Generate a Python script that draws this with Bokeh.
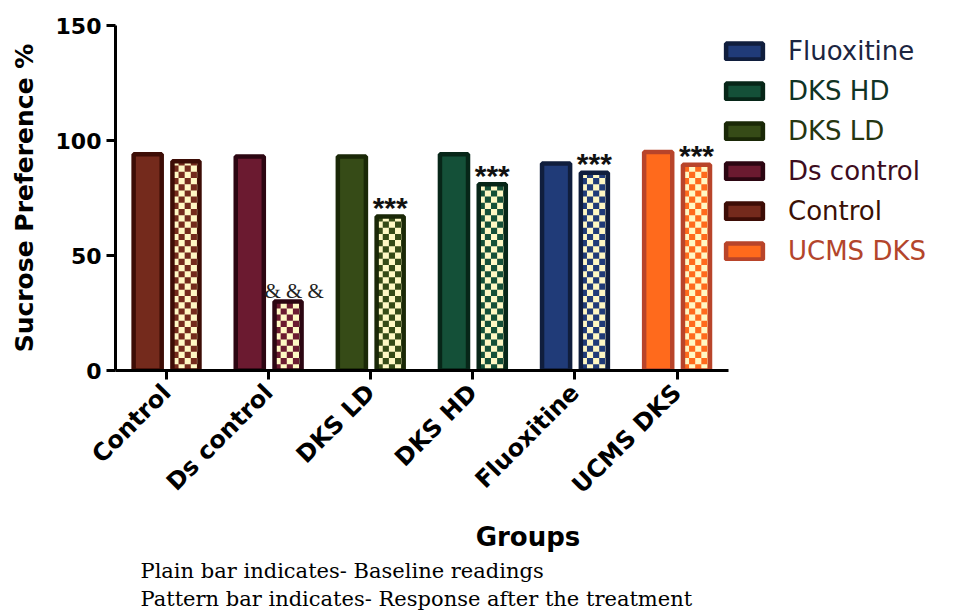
import math
from bokeh.plotting import figure
from bokeh.models import (ColumnDataSource, Legend, LegendItem, FixedTicker, Title, Range1d)
from bokeh.transform import dodge
from bokeh.core.properties import value
from bokeh.embed import file_html
from bokeh.resources import INLINE

# ---------------- data ----------------
groups = ["Control", "Ds control", "DKS LD", "DKS HD", "Fluoxitine", "UCMS DKS"]
baseline = [94, 93, 93, 94, 90, 95]
treated = [91, 30, 67, 81, 86, 89.5]
star_marks = ["", "", "***", "***", "***", "***"]
amp_marks = ["", "& & &", "", "", "", ""]
y_ticks = [0, 50, 100, 150]
legend_order = ["Fluoxitine", "DKS HD", "DKS LD", "Ds control", "Control", "UCMS DKS"]

# ---------------- styles ----------------
fill_colors = ["#742a1c", "#6b1a30", "#364b17", "#145038", "#203b78", "#ff6a1c"]
line_colors = ["#3d0d06", "#2c0612", "#1a2807", "#072618", "#101e3d", "#b8442a"]
label_colors = ["#3a1005", "#3d0c20", "#263610", "#0f3325", "#1c2541", "#b3452b"]
cream = "#fff8c4"
SANS = "DejaVu Sans"
BASE_OFF, TREAT_OFF = -0.185, 0.19
BASE_W, TREAT_W = 0.275, 0.265
CELL_X, CELL_Y = 0.06, 2.7

src = ColumnDataSource(dict(
    x=list(range(len(groups))), group=groups, baseline=baseline, treated=treated,
    fill=fill_colors, line=line_colors, stars=star_marks, amps=amp_marks,
))

# checkerboard cells of the "after treatment" bars, derived from the data
cl, cr, cb, ct, cc = [], [], [], [], []
for i, v in enumerate(treated):
    left = i + TREAT_OFF - TREAT_W / 2
    right = i + TREAT_OFF + TREAT_W / 2
    ncol = int(math.ceil(TREAT_W / CELL_X))
    nrow = int(math.ceil(v / CELL_Y))
    for c in range(ncol):
        for r in range(nrow):
            if (c + r) % 2 == 0:
                l0 = left + c * CELL_X
                b0 = r * CELL_Y
                cl.append(l0)
                cr.append(min(l0 + CELL_X, right))
                cb.append(b0)
                ct.append(min(b0 + CELL_Y, v))
                cc.append(fill_colors[i])
cells = ColumnDataSource(dict(left=cl, right=cr, bottom=cb, top=ct, color=cc))

p = figure(width=945, height=611, output_backend="svg", toolbar_location=None,
           x_range=Range1d(-0.5, 7.58), y_range=Range1d(0, 150),
           min_border_left=115, min_border_top=25, min_border_right=5,
           min_border_bottom=239)
p.outline_line_color = None
p.xgrid.visible = False
p.ygrid.visible = False

r_base = p.vbar(x=dodge("x", BASE_OFF, range=p.x_range), top="baseline", width=BASE_W,
                source=src, fill_color="fill", line_color="line", line_width=4.5)
p.vbar(x=dodge("x", TREAT_OFF, range=p.x_range), top="treated", width=TREAT_W,
       source=src, fill_color=cream, line_color=None)
p.quad(left="left", right="right", bottom="bottom", top="top", source=cells,
       fill_color="color", line_color=None)
p.vbar(x=dodge("x", TREAT_OFF, range=p.x_range), top="treated", width=TREAT_W,
       source=src, fill_color=None, line_color="line", line_width=4.5)

p.text(x=dodge("x", TREAT_OFF, range=p.x_range), y="treated", text="stars", source=src,
       text_align="center", text_baseline="alphabetic", y_offset=-9,
       text_font=value("Liberation Sans"), text_font_size="30px",
       text_font_style="bold", text_color="#111111")
p.text(x=dodge("x", TREAT_OFF + 0.06, range=p.x_range), y="treated", text="amps",
       source=src, text_align="center", text_baseline="alphabetic", y_offset=-11,
       text_font=value("Liberation Serif"), text_font_size="21px", text_color="#222222")

# ---------------- axes ----------------
ya = p.yaxis[0]
ya.ticker = FixedTicker(ticks=y_ticks)
ya.axis_label = "Sucrose Preference %"
ya.axis_label_text_font = SANS
ya.axis_label_text_font_size = "25px"
ya.axis_label_text_font_style = "bold"
ya.axis_label_text_color = "black"
ya.axis_label_standoff = 14
ya.major_label_text_font = SANS
ya.major_label_text_font_size = "22px"
ya.major_label_text_font_style = "bold"
ya.major_label_text_color = "black"
ya.major_label_standoff = 5
ya.axis_line_width = 3
ya.major_tick_line_width = 3
ya.major_tick_out = 9
ya.major_tick_in = 0
ya.minor_tick_line_color = None

xa = p.xaxis[0]
xa.ticker = FixedTicker(ticks=list(range(len(groups))))
xa.major_label_overrides = {i: g for i, g in enumerate(groups)}
xa.major_label_orientation = math.pi / 4
xa.bounds = (-0.5, 5.5)
xa.axis_label = "Groups"
xa.axis_label_text_font = SANS
xa.axis_label_text_font_size = "26px"
xa.axis_label_text_font_style = "bold"
xa.axis_label_text_color = "black"
xa.axis_label_standoff = 10
xa.major_label_text_font = SANS
xa.major_label_text_font_size = "24px"
xa.major_label_text_font_style = "bold"
xa.major_label_text_color = "black"
xa.major_label_standoff = 9
xa.axis_line_width = 3
xa.major_tick_line_width = 3
xa.major_tick_out = 9
xa.major_tick_in = 0
xa.minor_tick_line_color = None

# ---------------- footer ----------------
for line in ["Plain bar indicates- Baseline readings",
             "Pattern bar indicates- Response after the treatment"]:
    p.add_layout(Title(text=line, align="left", offset=25,
                       text_font="DejaVu Serif", text_font_size="21px",
                       text_font_style="normal", text_color="black", standoff=2), "below")

# ---------------- legends ----------------
for k, name in enumerate(legend_order):
    i = groups.index(name)
    center = 50 + 40 * k
    leg = Legend(items=[LegendItem(label=name, renderers=[r_base], index=i)],
                 location=(606, 372 - center - 18), orientation="vertical",
                 glyph_width=46, glyph_height=20, label_height=22, label_standoff=21,
                 padding=0, margin=0, spacing=0, border_line_color=None,
                 background_fill_alpha=0, label_text_font=SANS,
                 label_text_font_size="26px", label_text_color=label_colors[i])
    p.add_layout(leg)

open("out.html", "w").write(file_html(p, INLINE))
